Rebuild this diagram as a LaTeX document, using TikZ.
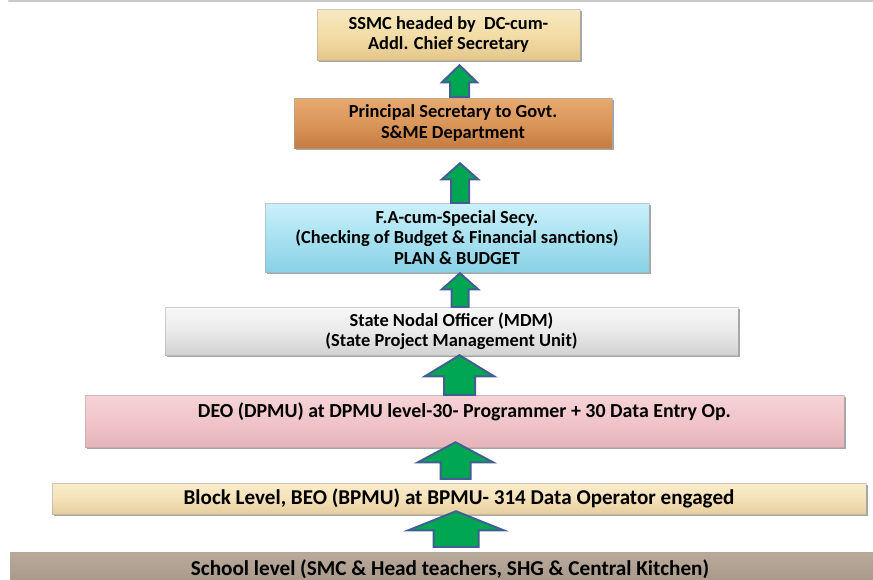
\documentclass[tikz,border=0pt]{standalone}
\usepackage{fontspec}
\setmainfont{Carlito}
\usetikzlibrary{shadows,calc}
\definecolor{arrgreen}{HTML}{00A651}
\definecolor{arrblue}{HTML}{415F91}
\definecolor{topgrey}{HTML}{C8C8C8}
\tikzset{
  lvl/.style={rectangle, inner sep=0pt, align=center,
    font=\bfseries\fontsize{18.4}{20.5}\selectfont,
    draw=black!35, draw opacity=0.5, line width=0.5pt,
    drop shadow={shadow xshift=1.5pt, shadow yshift=-2pt, opacity=0.35, fill=black}},
  grarr/.style={fill=arrgreen, draw=arrblue, line width=2pt, line join=miter},
  topline/.style={draw=topgrey, line width=2.5pt, line cap=round},
}
% #1 lower node, #2 upper node, #3 centre x, #4 gap above lower node,
% #5 tip distance below upper node, #6 head length, #7 head half width, #8 shaft half width
\newcommand{\grarrow}[8]{%
  \path[grarr] let \p1=(#1.north), \p2=(#2.south) in
    ({#3pt-#8pt},{\y1+#4pt}) -- ({#3pt-#8pt},{\y2-(#5pt)-(#6pt)})
    -- ({#3pt-#7pt},{\y2-(#5pt)-(#6pt)}) -- ({#3pt},{\y2-(#5pt)})
    -- ({#3pt+#7pt},{\y2-(#5pt)-(#6pt)}) -- ({#3pt+#8pt},{\y2-(#5pt)-(#6pt)})
    -- ({#3pt+#8pt},{\y1+#4pt}) -- cycle;
}
\begin{document}
\begin{tikzpicture}[x=1pt,y=-1pt]
\useasboundingbox[fill=white] (0,0) rectangle (873,579);
\draw[topline] (9,0.8) -- (880,0.8);

\node[lvl, minimum width=263pt, minimum height=51pt,
  top color={rgb,255:red,248;green,233;blue,193}, bottom color={rgb,255:red,228;green,198;blue,138},
  middle color={rgb,255:red,243;green,221;blue,168}]
  (ssmc) at (448.5,34.5) {SSMC headed by\ \ DC-cum-\\Addl. Chief Secretary};

\node[lvl, minimum width=318pt, minimum height=50pt,
  top color={rgb,255:red,230;green,170;blue,112}, bottom color={rgb,255:red,196;green,124;blue,66},
  middle color={rgb,255:red,219;green,150;blue,90}]
  (prin) at (453,123) {Principal Secretary to Govt.\\S\&ME Department};

\node[lvl, minimum width=384pt, minimum height=69pt,
  top color={rgb,255:red,203;green,240;blue,250}, bottom color={rgb,255:red,138;green,209;blue,230},
  middle color={rgb,255:red,168;green,225;blue,240}]
  (fa) at (457,237.5) {F.A-cum-Special Secy.\\(Checking of Budget \& Financial sanctions)\\PLAN \& BUDGET};

\node[lvl, minimum width=573pt, minimum height=48pt,
  top color={rgb,255:red,248;green,248;blue,248}, bottom color={rgb,255:red,210;green,210;blue,210},
  middle color={rgb,255:red,234;green,234;blue,234}]
  (sno) at (451.5,331) {State Nodal Officer (MDM)\\(State Project Management Unit)};

\node[lvl, minimum width=759pt, minimum height=52pt,
  top color={rgb,255:red,246;green,211;blue,214}, bottom color={rgb,255:red,230;green,180;blue,186},
  middle color={rgb,255:red,240;green,197;blue,201}]
  (deo) at (464.5,421) {\smash{\raisebox{3.5pt}{\fontsize{19.9}{20}\selectfont DEO (DPMU) at DPMU level-30- Programmer + 30 Data Entry Op.}}};

\node[lvl, minimum width=814pt, minimum height=31pt,
  top color={rgb,255:red,250;green,236;blue,202}, bottom color={rgb,255:red,230;green,206;blue,158},
  middle color={rgb,255:red,245;green,226;blue,185}]
  (blk) at (459,498.5) {\fontsize{21.1}{22}\selectfont Block Level, BEO (BPMU) at BPMU- 314 Data Operator engaged};

\node[lvl, minimum width=880pt, minimum height=34pt,
  top color={rgb,255:red,185;green,170;blue,155}, bottom color={rgb,255:red,165;green,150;blue,135},
  middle color={rgb,255:red,175;green,160;blue,145}]
  (sch) at (450,569) {\fontsize{21.2}{22}\selectfont School level (SMC \& Head teachers, SHG \& Central Kitchen)};

\grarrow{prin}{ssmc}{459.5}{1}{5}{17}{17.5}{9.5}
\grarrow{fa}{prin}{460}{0}{15}{16}{18}{9}
\grarrow{sno}{fa}{460}{0}{1}{16}{18}{8.5}
\grarrow{deo}{sno}{459.5}{0}{0}{21}{34.5}{15.5}
\grarrow{blk}{deo}{455.5}{4}{-5}{20}{37.5}{15}
\grarrow{sch}{blk}{456}{5}{-3}{19}{47.5}{22.5}
\end{tikzpicture}
\end{document}
